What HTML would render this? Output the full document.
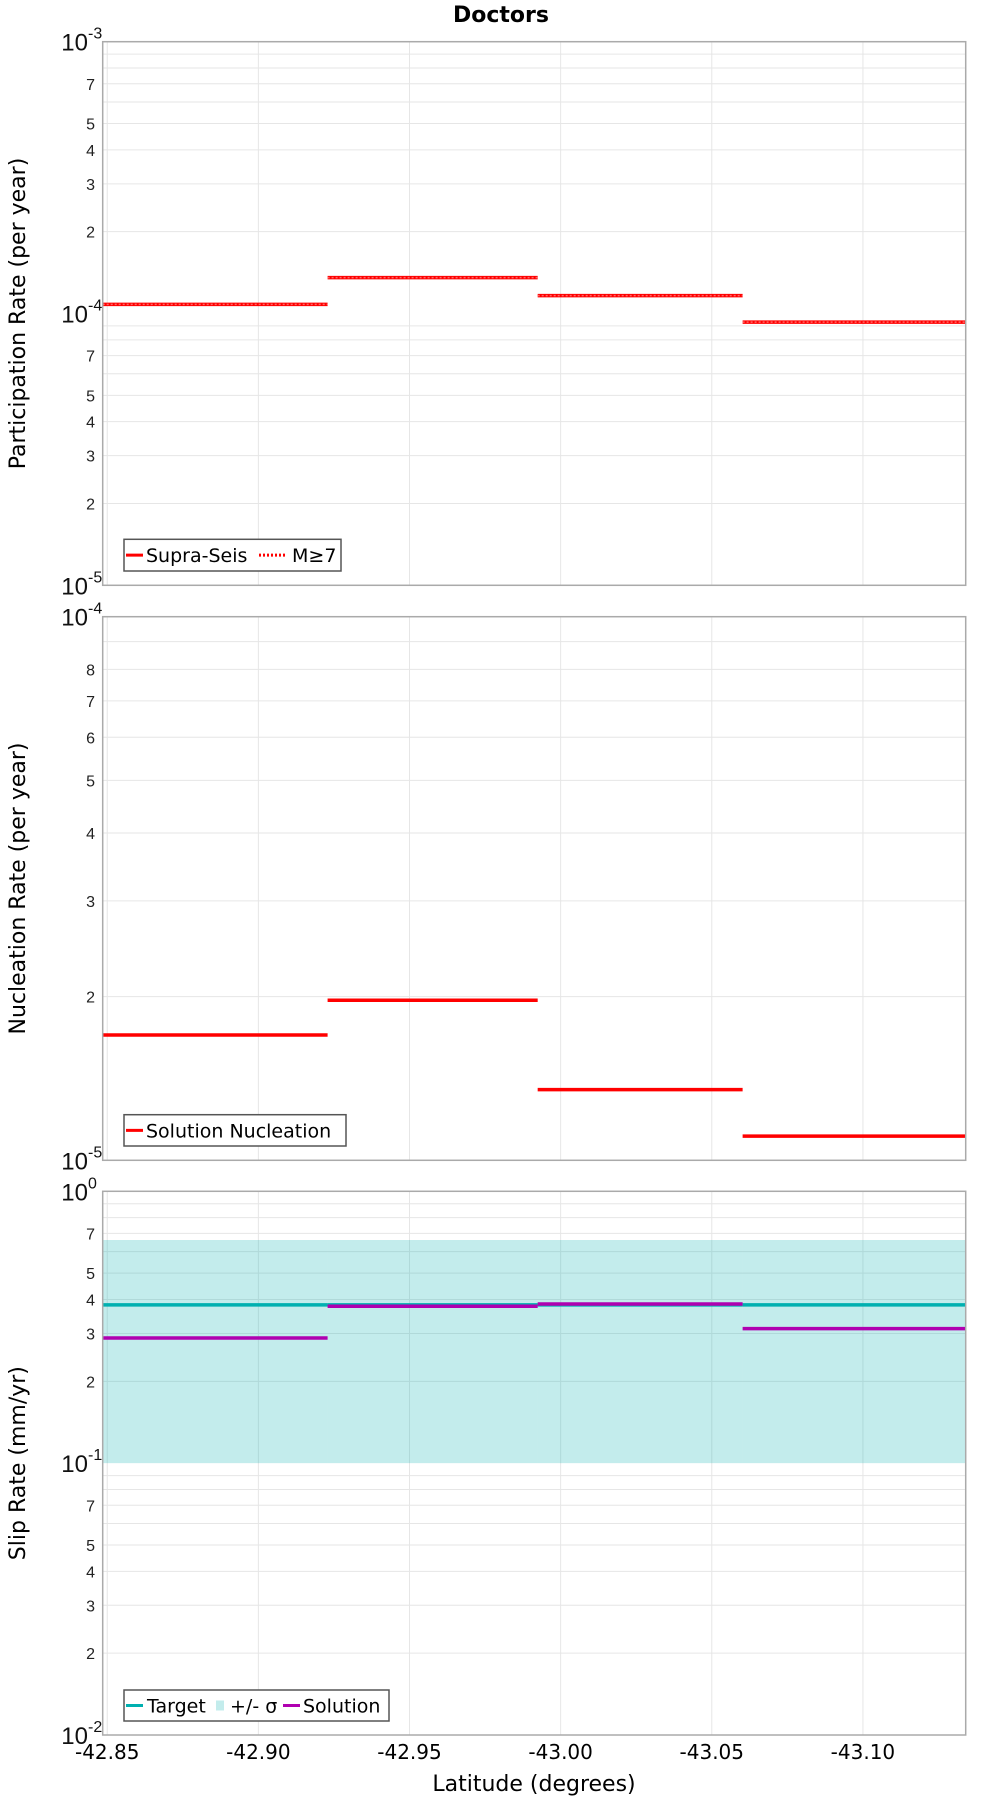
<!DOCTYPE html>
<html><head><meta charset="utf-8">
<style>
html,body{margin:0;padding:0;background:#fff;}
svg{display:block;font-family:"Liberation Sans","DejaVu Sans",sans-serif;}
</style></head>
<body>
<svg id="chart" width="1000" height="1800" viewBox="0 0 1000 1800" xmlns="http://www.w3.org/2000/svg">
<text x="501" y="22" text-anchor="middle" font-size="22" font-weight="bold" font-family="DejaVu Sans, sans-serif">Doctors</text>
<text x="534" y="1791" text-anchor="middle" font-size="22" font-family="DejaVu Sans, sans-serif">Latitude (degrees)</text>
</svg>
<script>
// ---- data ----
const segEdges = [-42.8485, -42.9229, -42.9924, -43.0602, -43.134];
const xTicks = [-42.85, -42.90, -42.95, -43.00, -43.05, -43.10];
const xTickLabels = ["-42.85", "-42.90", "-42.95", "-43.00", "-43.05", "-43.10"];
const supraSeis = [1.08e-4, 1.355e-4, 1.163e-4, 9.30e-5];
const mGe7 = [1.08e-4, 1.355e-4, 1.163e-4, 9.30e-5];
const nucleation = [1.70e-5, 1.97e-5, 1.349e-5, 1.108e-5];
const slipTarget = [0.382, 0.382, 0.382, 0.382];
const slipUpper = [0.662, 0.662, 0.662, 0.662];
const slipLower = [0.1, 0.1, 0.1, 0.1];
const slipSolution = [0.2886, 0.3776, 0.385, 0.3124];

const svg = document.getElementById('chart');
const NS = 'http://www.w3.org/2000/svg';
function mk(tag, attrs, parent) {
  const e = document.createElementNS(NS, tag);
  for (const k in attrs) e.setAttribute(k, attrs[k]);
  (parent || svg).appendChild(e);
  return e;
}
const X0 = 102.7, X1 = 965.7;
function xScale(lat) { return X0 + (lat - segEdges[0]) / (segEdges[segEdges.length - 1] - segEdges[0]) * (X1 - X0); }

function panel(name, top, bottom, logMin, logMax, labeledMinors, title) {
  const g = mk('g', {});
  
  
  const yS = v => bottom - (Math.log10(v) - logMin) / (logMax - logMin) * (bottom - top);
  // grid
  for (let d = logMin; d < logMax; d++) {
    for (let m = 1; m <= 9; m++) {
      const v = m * Math.pow(10, d);
      const y = yS(v);
      if (m > 1) {
        const gl = mk('line', {x1: X0, x2: X1, y1: y, y2: y, stroke: '#e6e6e6', 'stroke-width': 1}, g);
        
        
      }
      if (m > 1 && labeledMinors.indexOf(m) >= 0) {
        const t = mk('text', {x: 95, y: y + 6, 'text-anchor': 'end', 'font-size': 16, fill: '#222'}, g);
        
        
        t.textContent = String(m);
      }
    }
  }
  for (let d = logMin; d <= logMax; d++) {
    const y = yS(Math.pow(10, d));
    const t = mk('text', {x: 88, y: y + 9, 'text-anchor': 'end', 'font-size': 24, fill: '#111'}, g);
    
    
    t.textContent = '10';
    const s = mk('text', {x: 88, y: y - 3, 'text-anchor': 'start', 'font-size': 16, fill: '#111'}, g);
    
    
    s.textContent = String(d);
  }
  xTicks.forEach(lat => {
    const x = xScale(lat);
    const gl = mk('line', {x1: x, x2: x, y1: top, y2: bottom, stroke: '#e6e6e6', 'stroke-width': 1}, g);
    
    
  });
  const yt = mk('text', {x: 0, y: 0, 'text-anchor': 'middle', 'font-size': 22, 'font-family': 'DejaVu Sans, sans-serif',
    transform: 'translate(25,' + ((top + bottom) / 2) + ') rotate(-90)'}, g);
  
  
  yt.textContent = title;
  return {g, yS, top, bottom};
}
function frame(p) {
  const r = mk('rect', {x: X0, y: p.top, width: X1 - X0, height: p.bottom - p.top, fill: 'none', stroke: '#aaa', 'stroke-width': 1.5}, p.g);
  
  
}
function steps(p, vals, color, w, name, dash) {
  vals.forEach((v, i) => {
    const y = p.yS(v);
    const a = {x1: xScale(segEdges[i]), x2: xScale(segEdges[i + 1]), y1: y, y2: y, stroke: color, 'stroke-width': w};
    if (dash) a['stroke-dasharray'] = dash;
    const l = mk('line', a, p.g);
    
    
  });
}
function legend(p, x, y, w, h, items) {
  const lg = mk('g', {}, p.g);
  
  
  const r = mk('rect', {x: x, y: y, width: w, height: h, fill: '#fff', stroke: '#555', 'stroke-width': 1.5}, lg);
  
  
  items.forEach(it => {
    let s;
    if (it.kind === 'rect') s = mk('rect', {x: it.sx, y: y + h / 2 - 5, width: it.sw, height: 10, fill: it.color}, lg);
    else {
      const a = {x1: it.sx, x2: it.sx + it.sw, y1: y + h / 2, y2: y + h / 2, stroke: it.color, 'stroke-width': 3};
      if (it.dash) a['stroke-dasharray'] = it.dash;
      s = mk('line', a, lg);
    }
    
    
    const t = mk('text', {x: it.tx, y: y + h / 2 + 7, 'font-size': 19, 'font-family': 'DejaVu Sans, sans-serif'}, lg);
    
    
    t.textContent = it.label;
  });
}

// Panel 1
const p1 = panel('participation-panel', 41.7, 585.3, -5, -3, [2, 3, 4, 5, 7], 'Participation Rate (per year)');
steps(p1, supraSeis, '#ff0000', 3.5, 'supra-seis');
steps(p1, mGe7, '#ff6666', 1.5, 'm-ge-7', '2,2');
frame(p1);
legend(p1, 124, 539.3, 217, 31.7, [
  {sx: 126, sw: 17, color: '#ff0000', tx: 146, label: 'Supra-Seis'},
  {sx: 259, sw: 27, color: '#ff0000', dash: '2,2', tx: 292, label: 'M≥7'}
]);

// Panel 2
const p2 = panel('nucleation-panel', 616.7, 1160.3, -5, -4, [2, 3, 4, 5, 6, 7, 8], 'Nucleation Rate (per year)');
steps(p2, nucleation, '#ff0000', 3.5, 'solution-nucleation');
frame(p2);
legend(p2, 124, 1114.7, 222, 31.3, [
  {sx: 126, sw: 17, color: '#ff0000', tx: 146, label: 'Solution Nucleation'}
]);

// Panel 3
const p3 = panel('slip-rate-panel', 1191.3, 1735, -2, 0, [2, 3, 4, 5, 7], 'Slip Rate (mm/yr)');
slipUpper.forEach((u, i) => {
  const yT = p3.yS(u), yB = p3.yS(slipLower[i]);
  const r = mk('rect', {x: xScale(segEdges[i]), y: yT, width: xScale(segEdges[i + 1]) - xScale(segEdges[i]), height: yB - yT, fill: 'rgba(0,176,176,0.235)'}, p3.g);
  
  
});
steps(p3, slipTarget, '#00b0b0', 3.5, 'target');
steps(p3, slipSolution, '#b000b0', 3.5, 'solution');
frame(p3);
legend(p3, 124, 1690, 265, 31, [
  {sx: 126, sw: 17, color: '#00b0b0', tx: 147, label: 'Target'},
  {kind: 'rect', sx: 216, sw: 8, color: '#c3ecec', tx: 230, label: '+/- σ'},
  {sx: 283, sw: 17, color: '#b000b0', tx: 303, label: 'Solution'}
]);

// x tick labels
xTicks.forEach((lat, i) => {
  const t = mk('text', {x: xScale(lat), y: 1759, 'text-anchor': 'middle', 'font-size': 20, 'font-family': 'DejaVu Sans, sans-serif'});
  
  
  t.textContent = xTickLabels[i];
});
</script>
</body></html>
